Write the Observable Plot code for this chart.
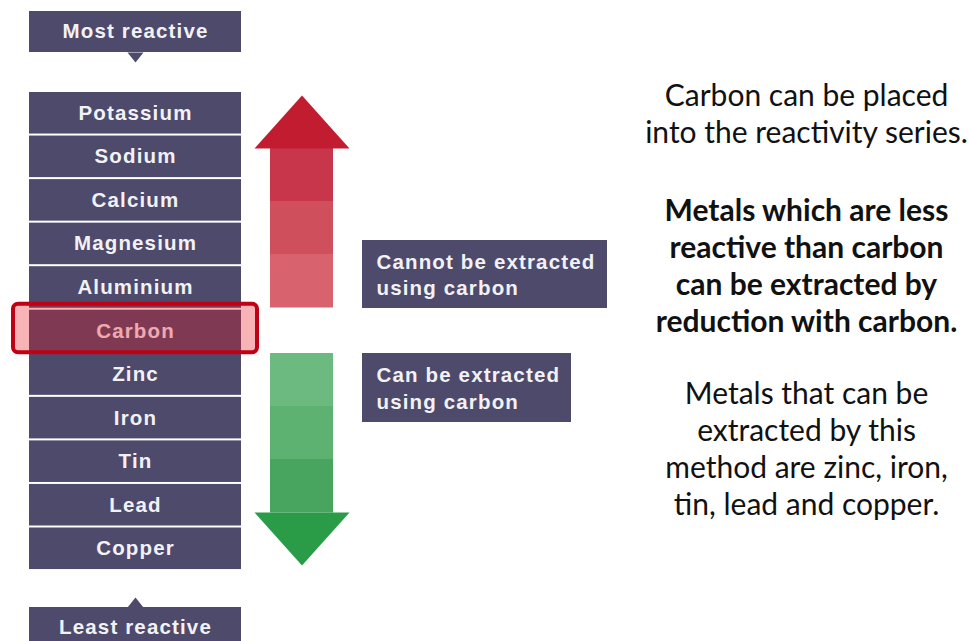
<!DOCTYPE html>
<html><head><meta charset="utf-8">
<script src="https://cdn.jsdelivr.net/npm/d3@7"></script>
<script src="https://cdn.jsdelivr.net/npm/@observablehq/plot@0.6"></script>
<style>body{margin:0;background:#fff}#chart{width:969px;height:641px;overflow:hidden}</style>
</head><body><div id="chart"></div>
<script>
// ---------- data ----------
const metals = ["Potassium","Sodium","Calcium","Magnesium","Aluminium","Carbon","Zinc","Iron","Tin","Lead","Copper"];
const highlighted = "Carbon";
const endLabels = ["Most reactive","Least reactive"];
const groupLabels = ["Cannot be extracted\nusing carbon","Can be extracted\nusing carbon"];
const noteIntro = ["Carbon can be placed","into the reactivity series."];
const noteRule = ["Metals which are less","reactive than carbon","can be extracted by","reduction with carbon."];
const noteList = ["Metals that can be","extracted by this","method are zinc, iron,","tin, lead and copper."];

// ---------- styles ----------
const navy = "#4e4a6b", boxText = "#f2f2f6";
const redShades = ["#c7364a","#d04f5d","#d8636f"], redHead = "#c21c31";
const greenShades = ["#6cba80","#5db171","#48a55f"], greenHead = "#2a9c48";
const boxFont = "Liberation Sans, Arial, sans-serif", boxFontSize = 20.5, boxSpacing = "1.15px";
const noteFont = "Lato, sans-serif", noteFontSize = 30;

// ---------- layout ----------
const W = 969, H = 641;
const col = {x1: 29, x2: 241};
col.cx = (col.x1 + col.x2) / 2;
const rowTop = 91, rowH = 43.55;
const endBoxH = 41, pointer = {half: 8, len: 10};
const endBoxTops = [11, 607];
const shaft = {x1: 270, x2: 333}, head = {x1: 254, x2: 349};
const arrowSpec = [
  {dir: "up", shaftTop: 148, shaftBottom: 307, tip: 95, shades: redShades, head: redHead},
  {dir: "down", shaftTop: 353, shaftBottom: 512, tip: 565, shades: greenShades, head: greenHead}
];
const labelBoxes = [{x1: 362, x2: 607, y1: 240, y2: 308}, {x1: 362, x2: 571, y1: 353, y2: 422}];
const noteX = 806, noteStep = 37;
const noteCenters = [112, 264, 447];

// ---------- derived tables ----------
const rows = metals.map((name, i) => ({
  name, x1: col.x1, x2: col.x2,
  y1: rowTop + i * rowH + 1, y2: rowTop + (i + 1) * rowH - 1,
  y: rowTop + (i + 0.5) * rowH
}));
const hl = rows.find(r => r.name === highlighted);
const hlBox = [{x1: col.x1 - 16, x2: col.x2 + 16, y1: hl.y1 - 6, y2: hl.y2 + 1}];

const ends = endLabels.map((label, i) => ({
  label, x1: col.x1, x2: col.x2, y1: endBoxTops[i], y2: endBoxTops[i] + endBoxH,
  y: endBoxTops[i] + endBoxH / 2 - 1
}));
const pointers = ends.flatMap((e, i) => {
  const by = i === 0 ? e.y2 : e.y1;
  const ty = i === 0 ? by + pointer.len : by - pointer.len;
  return [
    {id: i, x: col.cx - pointer.half, y: by},
    {id: i, x: col.cx + pointer.half, y: by},
    {id: i, x: col.cx, y: ty}
  ];
});

const segments = arrowSpec.flatMap(a => {
  const h = (a.shaftBottom - a.shaftTop) / a.shades.length;
  return a.shades.map((c, k) => ({x1: shaft.x1, x2: shaft.x2, y1: a.shaftTop + k * h, y2: a.shaftTop + (k + 1) * h + 0.5, c}));
});
const heads = arrowSpec.flatMap((a, i) => {
  const by = a.dir === "up" ? a.shaftTop : a.shaftBottom;
  return [
    {id: i, x: head.x1, y: by, c: a.head},
    {id: i, x: head.x2, y: by, c: a.head},
    {id: i, x: (head.x1 + head.x2) / 2, y: a.tip, c: a.head}
  ];
});

const labels = groupLabels.map((text, i) => ({...labelBoxes[i], text, tx: labelBoxes[i].x1 + 14, ty: (labelBoxes[i].y1 + labelBoxes[i].y2) / 2 - 1}));

const notes = [noteIntro, noteRule, noteList].map((lines, i) => ({
  text: lines.join("\n"), x: noteX, y: noteCenters[i], bold: i === 1
}));

const boxText$ = {fill: boxText, fontSize: boxFontSize, fontWeight: "bold", fontFamily: boxFont, ariaDescription: "boxtext"};
const note$ = {x: "x", y: "y", text: "text", lineAnchor: "middle", lineHeight: noteStep / noteFontSize, fontSize: noteFontSize, fontFamily: noteFont, fill: "#111"};

const plot = Plot.plot({
  width: W, height: H, margin: 0,
  x: {type: "linear", domain: [0, W], range: [0, W], axis: null},
  y: {type: "linear", domain: [0, H], range: [0, H], axis: null},
  style: {background: "white"},
  marks: [
    Plot.rect(ends, {x1: "x1", x2: "x2", y1: "y1", y2: "y2", fill: navy}),
    Plot.line(pointers, {x: "x", y: "y", z: "id", fill: navy, stroke: null}),
    Plot.text(ends, {x: col.cx, y: "y", text: "label", ...boxText$}),
    Plot.rect(rows, {x1: "x1", x2: "x2", y1: "y1", y2: "y2", fill: navy}),
    Plot.text(rows, {x: col.cx, y: "y", text: "name", ...boxText$}),
    Plot.rect(hlBox, {x1: "x1", x2: "x2", y1: "y1", y2: "y2", fill: "rgb(232,24,32)", fillOpacity: 0.33, stroke: "#c00014", strokeWidth: 4, rx: 5}),
    Plot.rect(segments, {x1: "x1", x2: "x2", y1: "y1", y2: "y2", fill: "c"}),
    Plot.line(heads, {x: "x", y: "y", z: "id", fill: "c", stroke: null}),
    Plot.rect(labels, {x1: "x1", x2: "x2", y1: "y1", y2: "y2", fill: navy}),
    Plot.text(labels, {x: "tx", y: "ty", text: "text", textAnchor: "start", lineAnchor: "middle", lineHeight: 1.3, ...boxText$}),
    Plot.text(notes.filter(d => !d.bold), {...note$, fontWeight: "normal"}),
    Plot.text(notes.filter(d => d.bold), {...note$, fontWeight: "bold"})
  ]
});
d3.select(plot).selectAll('g[aria-description="boxtext"] text').style("letter-spacing", boxSpacing);
document.getElementById("chart").append(plot);
</script></body></html>
